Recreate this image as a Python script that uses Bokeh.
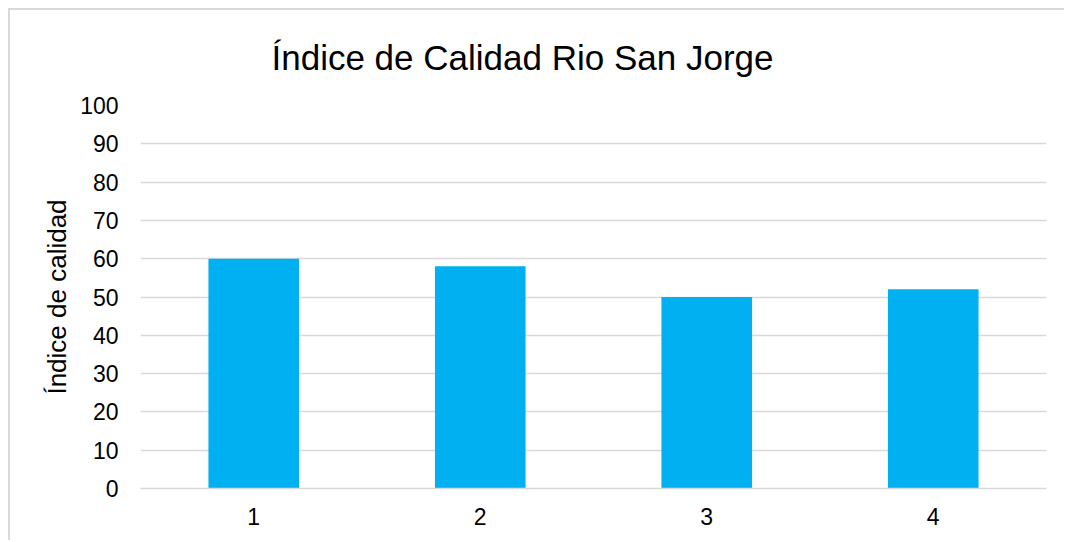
from bokeh.plotting import figure
from bokeh.models import FactorRange, Range1d, SingleIntervalTicker
from bokeh.embed import file_html
from bokeh.resources import INLINE

categories = ["1", "2", "3", "4"]
values = [60, 58, 50, 52]
title_text = "Índice de Calidad Rio San Jorge"
y_label = "Índice de calidad"

FONT = "Liberation Sans"

p = figure(
    width=1056, height=532,
    x_range=FactorRange(*categories, range_padding=0),
    y_range=Range1d(0, 100),
    output_backend="svg", toolbar_location=None,
    min_border_left=130, min_border_right=20,
    min_border_top=95, min_border_bottom=54,
)
p.styles = {"border-left": "2px solid #d9d9d9", "border-top": "2px solid #d9d9d9",
            "margin-left": "8px", "margin-top": "8px"}

p.vbar(x=categories, top=values, width=0.4, color="#00B0F0", line_color=None)

p.title.text = title_text
p.title.text_font = FONT
p.title.text_font_size = "35px"
p.title.text_font_style = "normal"
p.title.text_color = "#000000"
p.title.align = "left"
p.title.vertical_align = "top"
p.title.offset = 131
p.title.standoff = 54

p.outline_line_color = None
p.xgrid.grid_line_color = None
p.ygrid.grid_line_color = "#d9d9d9"
p.ygrid.grid_line_width = 1.5
p.yaxis.ticker = SingleIntervalTicker(interval=10)

p.yaxis.axis_line_color = None
p.yaxis.major_tick_line_color = None
p.yaxis.minor_tick_line_color = None
p.yaxis.major_label_standoff = 16
p.yaxis.major_label_text_font = FONT
p.yaxis.major_label_text_font_size = "23px"
p.yaxis.major_label_text_color = "#000000"
p.yaxis.axis_label = y_label
p.yaxis.axis_label_text_font = FONT
p.yaxis.axis_label_text_font_size = "26px"
p.yaxis.axis_label_text_font_style = "normal"
p.yaxis.axis_label_text_color = "#000000"
p.yaxis.axis_label_standoff = 5

p.xaxis.axis_line_color = "#d9d9d9"
p.xaxis.axis_line_width = 1.5
p.xaxis.major_tick_line_color = None
p.xaxis.minor_tick_line_color = None
p.xaxis.major_label_standoff = 13
p.xaxis.major_label_text_font = FONT
p.xaxis.major_label_text_font_size = "23px"
p.xaxis.major_label_text_color = "#000000"

open("out.html", "w").write(file_html(p, INLINE))
